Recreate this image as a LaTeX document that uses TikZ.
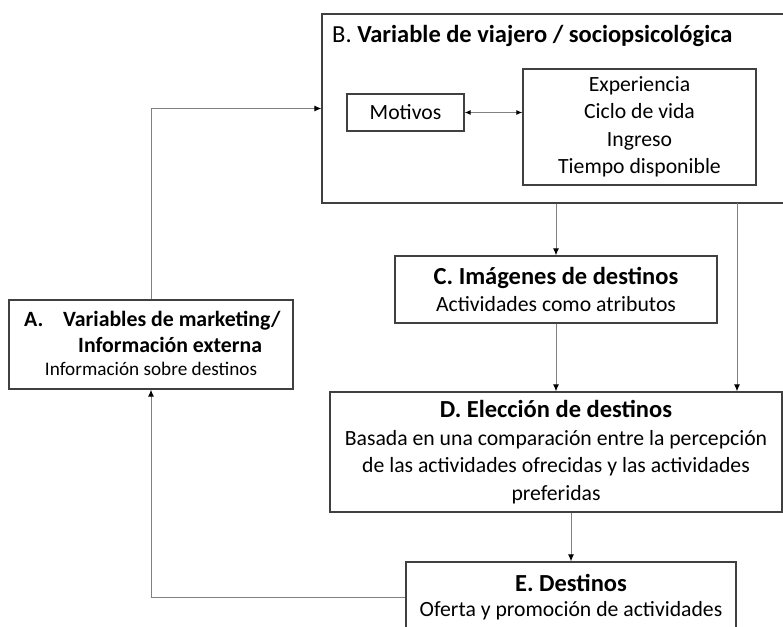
\documentclass[tikz,border=0pt]{standalone}
\usepackage{fontspec}
\setmainfont{Carlito}
\usetikzlibrary{arrows.meta}

\begin{document}
\begin{tikzpicture}[x=1pt,y=-1pt,
  box/.style={draw=black!75, line width=1.3pt, inner sep=0pt},
  txt/.style={font=\fontsize{21.7}{27.5}\selectfont, align=center, inner sep=0pt},
  small/.style={font=\fontsize{19.2}{23}\selectfont, inner sep=0pt},
  link/.style={draw=black!50, line width=1pt, -{Latex[length=7pt,width=6pt,color=black]}}]
	\newcommand{\headfont}{\fontsize{24.5}{28}\selectfont\bfseries}
	\newcommand{\subfont}{\fontsize{21.8}{26}\selectfont}

	\useasboundingbox (0,0) rectangle (783,626);

	% B. traveller box and its two inner boxes
	\node[box, minimum width=478pt, minimum height=189pt] (viajero) at (561,108.5) {};
	\node[anchor=base west, inner sep=0pt, font=\fontsize{24.5}{28}\selectfont] (tituloB) at (332,42) {B. \textbf{Variable de viajero / sociopsicológica}};
	\node[box, txt, minimum width=117pt, minimum height=37pt] (motivos) at (405.5,112.5) {Motivos};
	\node[box, txt, minimum width=233pt, minimum height=116pt] (factores) at (639.5,127) {Experiencia\\Ciclo de vida\\Ingreso\\Tiempo disponible};

	% A. marketing box
	\node[box, minimum width=284pt, minimum height=89pt] (marketing) at (151,344.5) {};
	\node[anchor=base west, inner sep=0pt, font=\subfont\bfseries] (letraA) at (24,326) {A.};
	\node[anchor=base west, inner sep=0pt, font=\subfont\bfseries] (tituloA) at (63,326) {Variables de marketing/};
	\node[anchor=base west, inner sep=0pt, font=\subfont\bfseries] (tituloA2) at (78,352) {Información externa};
	\node[small, anchor=base] (textoA) at (151,375) {Información sobre destinos};

	% C, D and E
	\node[box, txt, minimum width=322pt, minimum height=67pt] (imagenes) at (556,289.5) {{\headfont C. Imágenes de destinos}\\Actividades como atributos};
	\node[box, txt, minimum width=452pt, minimum height=120pt] (eleccion) at (556,452) {{\headfont D. Elección de destinos}\\Basada en una comparación entre la percepción\\de las actividades ofrecidas y las actividades\\preferidas};
	\node[box, txt, minimum width=330pt, minimum height=70pt] (destinos) at (571,597) {{\headfont E. Destinos}\\[-3pt]Oferta y promoción de actividades};

	% arrows
	\coordinate (lado) at (737,203);
	\draw[{Latex[length=6pt,width=5pt,color=black]}-{Latex[length=6pt,width=5pt,color=black]}, draw=black!50, line width=1pt] (motivos.east) -- (motivos.east -| factores.west);
	\draw[link] (imagenes.north |- viajero.south) -- (imagenes.north);
	\draw[link] (imagenes.south) -- (imagenes.south |- eleccion.north);
	\draw[link] (lado) -- (lado |- eleccion.north);
	\draw[link] (destinos.north |- eleccion.south) -- (destinos.north);
	\draw[link] (destinos.west) -| (marketing.south);
	\draw[link] (marketing.north) |- (viajero.west);
\end{tikzpicture}
\end{document}
